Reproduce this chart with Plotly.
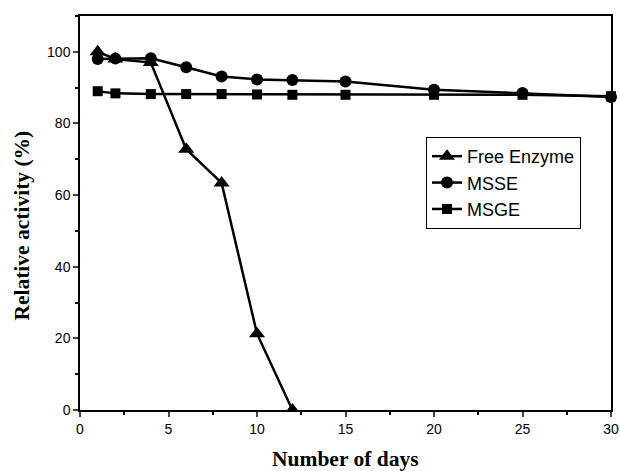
import plotly.graph_objects as go

days_free = [1, 2, 4, 6, 8, 10, 12]
free_enzyme = [100, 98, 97, 72.8, 63.4, 21.3, 0]

days_msse = [1, 2, 4, 6, 8, 10, 12, 15, 20, 25, 30]
msse = [98.0, 98.1, 98.2, 95.7, 93.1, 92.3, 92.1, 91.7, 89.4, 88.5, 87.4]

days_msge = [1, 2, 4, 6, 8, 10, 12, 15, 20, 25, 30]
msge = [89.0, 88.4, 88.2, 88.2, 88.2, 88.1, 88.0, 88.0, 88.0, 88.0, 87.6]

x_ticks = [0, 5, 10, 15, 20, 25, 30]
y_ticks = [0, 20, 40, 60, 80, 100]

x_title = "Number of days"
y_title = "Relative activity (%)"

fig = go.Figure()
fig.add_trace(go.Scatter(x=days_free, y=free_enzyme, name="Free Enzyme", mode="lines+markers",
                         line=dict(color="black", width=2.5),
                         marker=dict(symbol="triangle-up", size=14, color="black"),
                         cliponaxis=True))
fig.add_trace(go.Scatter(x=days_msse, y=msse, name="MSSE", mode="lines+markers",
                         line=dict(color="black", width=2.5),
                         marker=dict(symbol="circle", size=12, color="black"),
                         cliponaxis=False))
fig.add_trace(go.Scatter(x=days_msge, y=msge, name="MSGE", mode="lines+markers",
                         line=dict(color="black", width=2.5),
                         marker=dict(symbol="square", size=10, color="black"),
                         cliponaxis=False))

title_font = dict(family="Liberation Serif, Times New Roman", size=21.5, color="black")

fig.update_layout(
    width=620, height=471,
    margin=dict(l=80, r=9, t=16, b=61),
    paper_bgcolor="white", plot_bgcolor="white",
    font=dict(family="Liberation Sans, Arial", size=14, color="black"),
    legend=dict(x=0.6516, y=0.693, xanchor="left", yanchor="top",
                bordercolor="black", borderwidth=1, bgcolor="white",
                font=dict(family="Liberation Sans, Arial", size=18, color="black"),
                tracegroupgap=0, itemwidth=30),
    showlegend=True,
    annotations=[
        dict(text="<b>" + x_title + "</b>", xref="paper", yref="paper", x=0.5, y=-0.1256,
             xanchor="center", yanchor="middle", showarrow=False, font=title_font),
        dict(text="<b>" + y_title + "</b>", xref="paper", yref="paper", x=-0.110, y=0.467,
             xanchor="center", yanchor="middle", showarrow=False, textangle=-90, font=title_font),
    ],
)
fig.update_xaxes(
    range=[0, 30], tickvals=x_ticks, ticks="outside", ticklen=5, tickwidth=1.5,
    showline=True, linecolor="black", linewidth=1.5, mirror=True, showgrid=False, zeroline=False,
    minor=dict(dtick=2.5, ticks="outside", ticklen=3, tickwidth=1.5, tickcolor="black", showgrid=False),
    tickfont=dict(size=14), automargin=False, ticklabeloverflow="allow",
)
fig.update_yaxes(
    range=[0, 110], tickvals=y_ticks, ticks="outside", ticklen=5, tickwidth=1.5,
    showline=True, linecolor="black", linewidth=1.5, mirror=True, showgrid=False, zeroline=False,
    minor=dict(dtick=10, ticks="outside", ticklen=3, tickwidth=1.5, tickcolor="black", showgrid=False),
    tickfont=dict(size=14), automargin=False,
)

fig.write_html("out.html",
               config={"displayModeBar": False},
               post_script="document.body.style.margin='0';document.body.style.overflow='hidden';")
